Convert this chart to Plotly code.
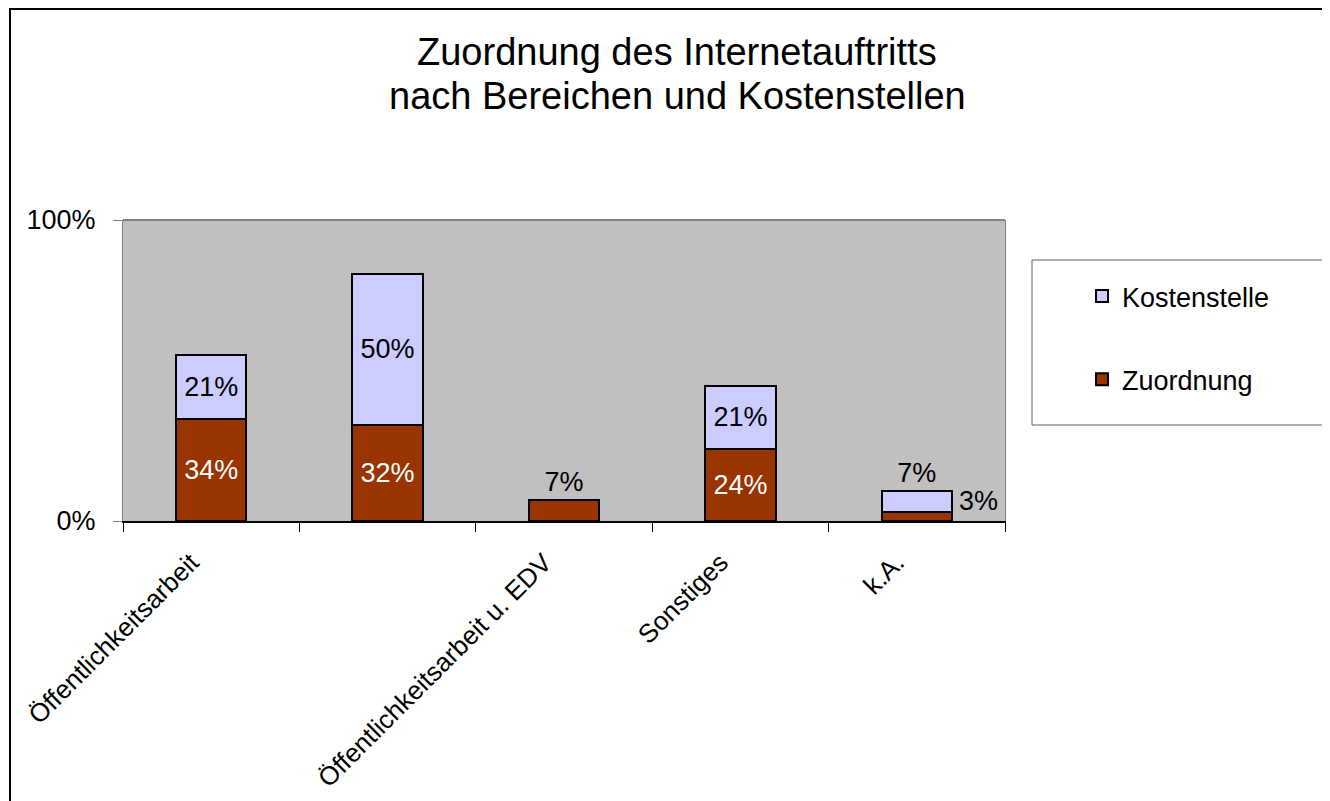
import plotly.graph_objects as go

# Werte aus der Grafik (Anteile)
bereiche = ["Öffentlichkeitsarbeit", " ", "Öffentlichkeitsarbeit u. EDV", "Sonstiges", "k.A."]
zuordnung = [0.34, 0.32, 0.07, 0.24, 0.03]
kostenstelle = [0.21, 0.50, None, 0.21, 0.07]

titel = ["Zuordnung des Internetauftritts", "nach Bereichen und Kostenstellen"]

FONT = "Arial, Liberation Sans, sans-serif"

# Bildschirmkoordinaten der Vorlage; die Seite hat 8px Rand (body margin)
OFF = 8
W, H = 1330 - OFF, 801 - OFF
L, R, T, B = 123, 1005, 220, 521


def px_x(p):
    return (p - L) / (R - L)


def px_y(p):
    return (B - p) / (B - T)


zu_text = [f"{v:.0%}" for v in zuordnung]
zu_text[4] = ""  # steht rechts neben dem Balken
zu_pos = ["inside", "inside", "outside", "inside", "inside"]
ko_text = [f"{v:.0%}" if v else "" for v in kostenstelle]
ko_pos = ["inside", "inside", "inside", "inside", "outside"]

fig = go.Figure()
fig.add_trace(go.Bar(
    x=bereiche, y=zuordnung, name="Zuordnung",
    marker=dict(color="#993300", line=dict(color="black", width=2)),
    text=zu_text, textposition=zu_pos, textangle=0,
    insidetextanchor="middle",
    insidetextfont=dict(color="white", size=27, family=FONT),
    outsidetextfont=dict(color="black", size=27, family=FONT),
    cliponaxis=False, legendgroup="z", legendrank=2,
))
fig.add_trace(go.Bar(
    x=bereiche, y=kostenstelle, name="Kostenstelle",
    marker=dict(color="#CCCCFF", line=dict(color="black", width=2)),
    text=ko_text, textposition=ko_pos, textangle=0,
    insidetextanchor="middle",
    insidetextfont=dict(color="black", size=27, family=FONT),
    outsidetextfont=dict(color="black", size=27, family=FONT),
    cliponaxis=False, legendgroup="k", legendrank=1,
))

# 3% neben dem k.A.-Balken
fig.add_annotation(
    x=bereiche[4], y=zuordnung[4] + kostenstelle[4] / 2,
    text=f"{zuordnung[4]:.0%}", showarrow=False, xshift=62,
    font=dict(size=27, color="black", family=FONT),
)

# Titel in zwei Zeilen
for zeile, ym in zip(titel, [52, 96]):
    fig.add_annotation(
        xref="paper", yref="paper", x=px_x(677), y=px_y(ym),
        text=zeile, showarrow=False, xanchor="center", yanchor="middle",
        font=dict(size=38, family=FONT, color="black"),
    )

fig.update_layout(
    width=W, height=H,
    margin=dict(l=L - OFF, r=W - (R - OFF), t=T - OFF, b=H - (B - OFF), autoexpand=False),
    paper_bgcolor="white", plot_bgcolor="#C0C0C0",
    barmode="stack", bargap=0.6,
    font=dict(family=FONT, size=27, color="black"),
    legend=dict(
        x=px_x(1082), y=px_y(272), xanchor="left", yanchor="top",
        traceorder="grouped", tracegroupgap=45,
        font=dict(size=27, family=FONT), bgcolor="rgba(0,0,0,0)",
        itemclick=False,
    ),
    showlegend=True,
)

fig.update_xaxes(
    type="category", tickson="boundaries", ticks="outside", ticklen=9,
    tickcolor="black", tickangle=-45, showline=True, linecolor="black",
    linewidth=2, showgrid=False, tickfont=dict(size=26, family=FONT),
    ticklabelshift=-20, ticklabelstandoff=14,
)
fig.update_yaxes(
    range=[0, 1], tickvals=[0, 1], tickformat=".0%", ticks="outside",
    ticklen=9, tickcolor="#808080", showline=True, linecolor="#808080",
    linewidth=1, mirror=True, showgrid=False, zeroline=False,
    tickfont=dict(size=27, family=FONT), ticklabelstandoff=12,
)

# obere Kante der Plotfläche
fig.add_shape(type="line", xref="paper", yref="paper", x0=0, x1=1, y0=1, y1=1,
              line=dict(color="#808080", width=2))
# Legendenrahmen
fig.add_shape(type="rect", xref="paper", yref="paper",
              x0=px_x(1032), x1=px_x(1345), y0=px_y(425), y1=px_y(260),
              line=dict(color="#606060", width=1))
# Rahmen um das ganze Diagramm
fig.add_shape(type="rect", xref="paper", yref="paper",
              x0=px_x(10), x1=px_x(1345), y0=px_y(815), y1=px_y(9),
              line=dict(color="black", width=2))

fig.write_html("out.html")
